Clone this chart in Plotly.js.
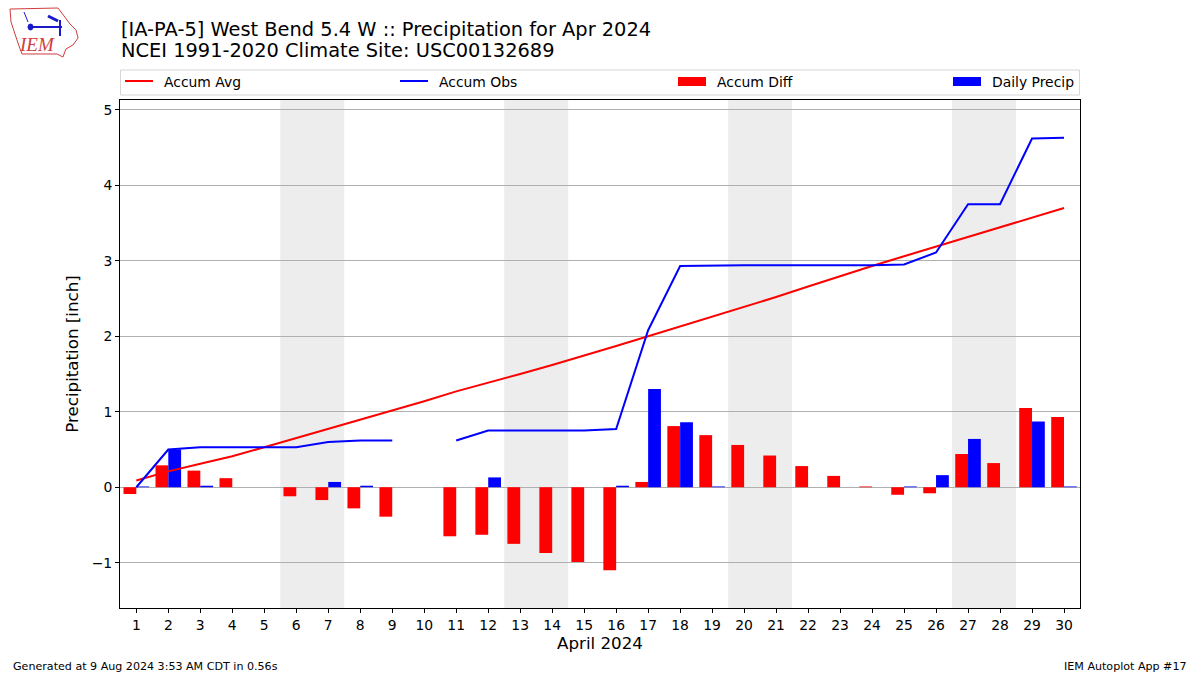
<!DOCTYPE html>
<html>
<head>
<meta charset="utf-8">
<script src="https://cdn.plot.ly/plotly-3.0.1.min.js"></script>
<style>html,body{margin:0;padding:0;background:#fff;}#chart{width:1200px;height:675px;}</style>
</head>
<body>
<div id="chart"></div>
<script>
// ---- data (April 2024, West Bend 5.4 W) ----
const days = [1,2,3,4,5,6,7,8,9,10,11,12,13,14,15,16,17,18,19,20,21,22,23,24,25,26,27,28,29,30];
const accumAvg = [0.09,0.21,0.31,0.41,0.53,0.65,0.77,0.90,1.01,1.14,1.27,1.38,1.50,1.62,1.74,1.87,2.00,2.13,2.25,2.38,2.52,2.66,2.80,2.93,3.06,3.19,3.32,3.44,3.57,3.70];
const accumObs = [0.00,0.50,0.53,0.53,0.53,0.53,0.60,0.62,0.62,null,0.62,0.75,0.75,0.75,0.75,0.77,2.08,2.93,2.94,2.94,2.94,2.94,2.94,2.94,2.95,3.11,3.75,3.75,4.62,4.63];
const accumDiff = [-0.09,0.29,0.22,0.12,0.00,-0.12,-0.17,-0.28,-0.39,null,-0.65,-0.63,-0.75,-0.87,-0.99,-1.10,0.07,0.81,0.69,0.56,0.42,0.28,0.15,0.01,-0.10,-0.08,0.44,0.32,1.05,0.93];
const dailyPrecip = [0.01,0.50,0.02,0,0,0,0.07,0.02,0,null,0,0.13,0,0,0,0.02,1.30,0.86,0.01,0,0,0,0,0,0.01,0.16,0.64,0,0.87,0.01];
const yTicks = [-1,0,1,2,3,4,5];
const seriesNames = ["Accum Avg", "Accum Obs", "Accum Diff", "Daily Precip"];
const titleLine1 = "[IA-PA-5] West Bend 5.4 W :: Precipitation for Apr 2024";
const titleLine2 = "NCEI 1991-2020 Climate Site: USC00132689";
const xTitle = "April 2024";
const yTitle = "Precipitation [inch]";
const footerLeft = "Generated at 9 Aug 2024 3:53 AM CDT in 0.56s";
const footerRight = "IEM Autoplot App #17";
const year = 2024, monthIndex = 3; // April

// ---- layout helpers (pixel -> paper) ----
const L = 120, R = 1080, T = 100, B = 608;
const px = x => (x - L) / (R - L);
const py = y => (B - y) / (B - T);
const font = 'DejaVu Sans, sans-serif';
const RED = '#ff0000', BLUE = '#0000ff';

const shapes = [];
const annotations = [];

// weekend shading
days.forEach(d => {
  const wd = new Date(year, monthIndex, d).getDay();
  if (wd === 6) {
    shapes.push({type:'rect', xref:'x', yref:'paper', x0:d-0.5, x1:d+1.5, y0:0, y1:1,
      fillcolor:'#ededed', line:{width:0}, layer:'below'});
  }
});

// manual legend (matplotlib "expand" style box)
shapes.push({type:'rect', xref:'paper', yref:'paper', x0:px(120.5), x1:px(1079.5), y0:py(95), y1:py(70),
  line:{color:'#d6d6d6', width:1}, fillcolor:'#ffffff'});
const legendX = [125, 400, 678, 953];
const legendKind = ['line','line','bar','bar'];
const legendColor = [RED, BLUE, RED, BLUE];
seriesNames.forEach((name, i) => {
  const x0 = legendX[i];
  if (legendKind[i] === 'line') {
    shapes.push({type:'line', xref:'paper', yref:'paper', x0:px(x0), x1:px(x0+28), y0:py(81), y1:py(81),
      line:{color:legendColor[i], width:2}});
  } else {
    shapes.push({type:'rect', xref:'paper', yref:'paper', x0:px(x0), x1:px(x0+28), y0:py(86), y1:py(77),
      line:{width:0}, fillcolor:legendColor[i]});
  }
  annotations.push({text:name, xref:'paper', yref:'paper', x:px(x0+37), y:py(81.5), xanchor:'left', yanchor:'middle',
    showarrow:false, font:{family:font, size:13.9, color:'#000'}});
});

// IEM logo outline (decorative)
const logoPts = [[10,9],[58,8],[64,16],[70,24],[76,30],[78,38],[73,45],[66,49],[63,57],[57,54],[22,54],[19,46],[15,34],[11,22]];
const path = 'M ' + logoPts.map(p => px(p[0]).toFixed(4) + ' ' + py(p[1]).toFixed(4)).join(' L ') + ' Z';
shapes.push({type:'path', xref:'paper', yref:'paper', path:path, line:{color:'#d23c3c', width:1}, fillcolor:'rgba(0,0,0,0)'});
shapes.push({type:'line', xref:'paper', yref:'paper', x0:px(30), y0:py(27), x1:px(62), y1:py(27), line:{color:'#1a1acc', width:2}});
shapes.push({type:'line', xref:'paper', yref:'paper', x0:px(48), y0:py(16), x1:px(58), y1:py(21), line:{color:'#1a1acc', width:3}});
shapes.push({type:'line', xref:'paper', yref:'paper', x0:px(60), y0:py(20), x1:px(60), y1:py(36), line:{color:'#1a1acc', width:2}});
shapes.push({type:'line', xref:'paper', yref:'paper', x0:px(24), y0:py(12), x1:px(28), y1:py(22), line:{color:'#1a1acc', width:1}});
shapes.push({type:'circle', xref:'paper', yref:'paper', x0:px(28), y0:py(24), x1:px(33), y1:py(30), fillcolor:'#1a1acc', line:{color:'#1a1acc', width:1}});
annotations.push({text:'<i>IEM</i>', xref:'paper', yref:'paper', x:px(37), y:py(45), xanchor:'center', yanchor:'middle',
  showarrow:false, font:{family:'Liberation Serif, serif', size:19, color:'#d23c3c'}});

// titles
annotations.push({text:titleLine1, xref:'paper', yref:'paper', x:px(119), y:py(29), xanchor:'left', yanchor:'middle',
  showarrow:false, font:{family:font, size:19.4, color:'#000'}});
annotations.push({text:titleLine2, xref:'paper', yref:'paper', x:px(119), y:py(51), xanchor:'left', yanchor:'middle',
  showarrow:false, font:{family:font, size:19.4, color:'#000'}});

// footers
annotations.push({text:footerLeft, xref:'paper', yref:'paper', x:px(11), y:py(666), xanchor:'left', yanchor:'middle', showarrow:false, font:{family:font, size:11.1, color:'#000'}});
annotations.push({text:footerRight, xref:'paper', yref:'paper', x:px(1189), y:py(666), xanchor:'right', yanchor:'middle', showarrow:false, font:{family:font, size:11.1, color:'#000'}});

const traces = [
  {x: days, y: accumDiff, type:'bar', name:seriesNames[2], marker:{color:RED, line:{width:0}}, width:0.4, offset:-0.4},
  {x: days, y: dailyPrecip, type:'bar', name:seriesNames[3], marker:{color:BLUE, line:{width:0}}, width:0.4, offset:0},
  {x: days, y: accumAvg, type:'scatter', mode:'lines', name:seriesNames[0], line:{color:RED, width:2}},
  {x: days, y: accumObs, type:'scatter', mode:'lines', name:seriesNames[1], line:{color:BLUE, width:2}, connectgaps:false}
];

const layout = {
  width:1200, height:675,
  margin:{l:L, r:1200-R, t:T, b:675-B, pad:0},
  paper_bgcolor:'#ffffff', plot_bgcolor:'#ffffff',
  font:{family:font, size:13.9, color:'#000'},
  barmode:'overlay',
  showlegend:false,
  xaxis:{range:[0.49,30.5], tickmode:'array', tickvals:days, ticktext:days.map(String),
         ticks:'outside', ticklen:4, tickcolor:'#000', showgrid:false, zeroline:false,
         showline:true, linecolor:'#000', linewidth:1, mirror:true,
         tickfont:{family:font, size:13.9},
         title:{text:xTitle, font:{family:font, size:16.7}, standoff:5}},
  yaxis:{range:[-1.6,5.13], tickmode:'array', tickvals:yTicks,
         ticks:'outside', ticklen:4, tickcolor:'#000', showgrid:true, gridcolor:'#b0b0b0', gridwidth:1,
         zeroline:false, showline:true, linecolor:'#000', linewidth:1, mirror:true,
         tickfont:{family:font, size:13.9},
         title:{text:yTitle, font:{family:font, size:16.7}, standoff:8}},
  shapes: shapes,
  annotations: annotations
};

Plotly.newPlot('chart', traces, layout, {displayModeBar:false, staticPlot:true});
</script>
</body>
</html>
